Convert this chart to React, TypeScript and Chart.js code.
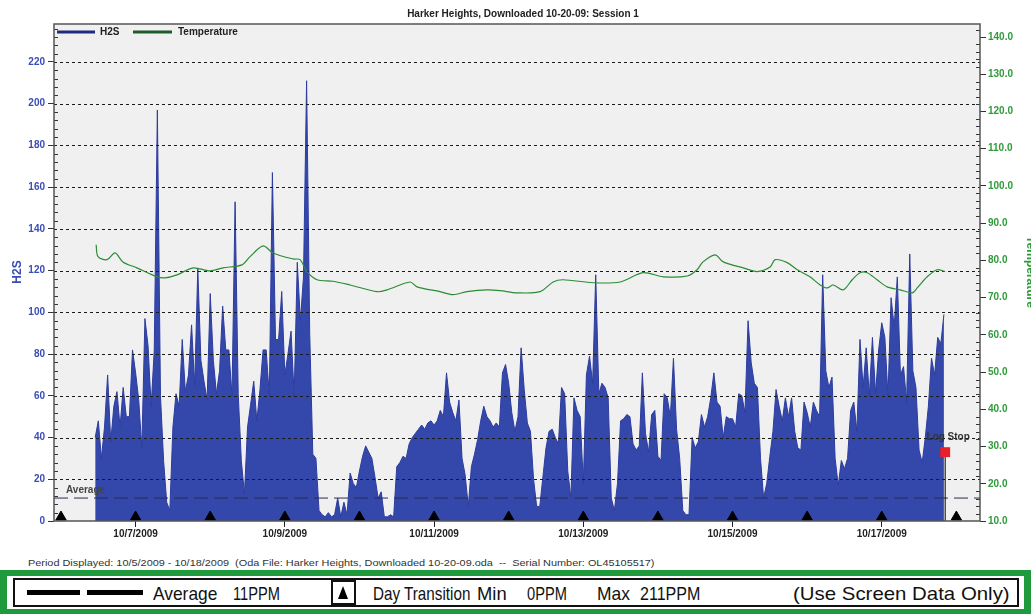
import React, { useEffect, useLayoutEffect, useRef } from 'react';
import { Chart, registerables } from 'chart.js';

Chart.register(...registerables);

// ---------------- data ----------------
const chartTitle = 'Harker Heights, Downloaded 10-20-09: Session 1';

// H2S readings (ppm), one per hour, starting 10/6/2009 11:00
const h2sStartHour = 11; // hours after 10/6/2009 00:00
const h2sPPM = [
  // 10/6 11:00-23:00
  40, 48, 30, 45, 70, 38, 55, 62, 45, 64, 50, 50, 82,
  // 10/7
  71, 58, 35, 97, 84, 55, 82, 197, 60, 29, 9, 5, 45, 61, 55, 87, 62, 70, 94, 65, 121, 77, 67, 58,
  // 10/8
  109, 77, 61, 72, 103, 82, 82, 60, 153, 61, 29, 13, 45, 56, 67, 48, 63, 82, 82, 60, 167, 87, 87, 110,
  // 10/9
  70, 80, 91, 60, 124, 96, 117, 211, 90, 32, 30, 5, 3, 2, 4, 2, 3, 11, 2, 9, 3, 23, 18, 16,
  // 10/10
  24, 31, 36, 33, 30, 21, 11, 14, 2, 2, 3, 2, 26, 28, 31, 30, 37, 40, 42, 44, 46, 44, 47, 48,
  // 10/11
  46, 48, 53, 50, 71, 57, 52, 48, 58, 30, 22, 7, 26, 32, 39, 48, 55, 50, 48, 45, 47, 45, 71, 75,
  // 10/12
  66, 52, 43, 50, 83, 63, 47, 43, 20, 7, 7, 21, 35, 43, 44, 40, 37, 64, 61, 24, 11, 59, 53, 50,
  // 10/13
  18, 70, 79, 66, 118, 61, 66, 64, 59, 11, 5, 18, 48, 49, 51, 50, 37, 34, 36, 71, 42, 33, 51, 53,
  // 10/14
  31, 29, 61, 59, 50, 78, 44, 30, 5, 3, 3, 40, 35, 38, 51, 45, 50, 59, 71, 57, 55, 40, 50, 49,
  // 10/15
  49, 45, 61, 60, 52, 96, 76, 66, 64, 30, 11, 18, 31, 43, 63, 55, 48, 59, 50, 59, 43, 35, 34, 57,
  // 10/16
  52, 45, 57, 53, 50, 118, 72, 64, 69, 30, 17, 29, 25, 30, 53, 57, 43, 87, 64, 83, 60, 88, 61, 82,
  // 10/17 00:00-20:00
  95, 88, 60, 107, 93, 117, 70, 74, 57, 128, 72, 64, 34, 28, 40, 55, 78, 70, 88, 85, 99,
];

// Temperature (right axis), hours after 10/6/2009 00:00
const tempHours = [
  11.3, 11.9, 14.8, 17.4, 19.9, 24.4, 30.9, 33.5, 37.3, 42.5, 47.9, 52.1, 58.2, 60.8, 65, 68.2,
  74.6, 76.9, 79.1, 82.4, 87.5, 93, 101.7, 104.9, 112.3, 114.5, 121.9, 126.1, 130.6, 137, 141.2,
  146.7, 154.1, 158.3, 161.5, 171.1, 179.8, 187.2, 193.7, 201.4, 204.6, 206.5, 210.4, 213, 219.4,
  223.9, 228.1, 229.7, 233.6, 236.8, 240.9, 244.2, 246.4, 248.4, 251.6, 254.5, 257, 259.3, 262.5,
  265.7, 269.9, 273.8, 275.4, 278.6, 281.8, 284.4,
];
const tempValues = [
  84.2, 81, 80.2, 82, 79.6, 78, 75.6, 75.3, 76.1, 78, 77.2, 78, 78.8, 81, 83.9, 82,
  80.4, 80.2, 77, 74.8, 74.4, 73.4, 71.6, 72.1, 74.2, 72.9, 71.6, 70.8, 71.6, 72.1, 71.9,
  71.3, 71.6, 74.2, 74.8, 74, 74.2, 76.7, 75.6, 75.8, 77.5, 79.6, 81.5, 79.6, 78,
  77, 78.2, 80.2, 79.4, 77.5, 75.6, 73.4, 72.6, 73.4, 72.1, 74.8, 76.7, 76.7, 74.8,
  72.9, 72.1, 71.3, 72.6, 75.6, 77.5, 77,
];

const dayTransitionHours = [0, 24, 48, 72, 96, 120, 144, 168, 192, 216, 240, 264, 288];
const dateTickHours = [24, 72, 120, 168, 216, 264];
const dateTickLabels = ['10/7/2009', '10/9/2009', '10/11/2009', '10/13/2009', '10/15/2009', '10/17/2009'];
const h2sTicks = [0, 20, 40, 60, 80, 100, 120, 140, 160, 180, 200, 220];
const tempTicks = [10, 20, 30, 40, 50, 60, 70, 80, 90, 100, 110, 120, 130, 140];
const averagePPM = 11;
const minPPM = 0;
const maxPPM = 211;
const logStopHour = 284.4;
const logStopPPM = 33;
const periodText =
  'Period Displayed: 10/5/2009 - 10/18/2009  (Oda File: Harker Heights, Downloaded 10-20-09.oda  --  Serial Number: OL45105517)';

// ---------------- layout / style ----------------
const W = 1031;
const CH = 548;
const X_MIN = -2.25;
const X_MAX = 295.6;
const Y_MAX = 238.2;
const Y1_MIN = 10;
const Y1_MAX = 143.5;
const TRIANGLE_Y = 1.9;
const BLUE_TXT = '#3a4db3';
const GREEN_TXT = '#2f9a3a';
const FONT = "'Liberation Sans', Arial, sans-serif";

Chart.defaults.font.family = FONT;

const decorPlugin = {
  id: 'decor',
  beforeDraw(chart: any) {
    const { ctx, chartArea: a } = chart;
    ctx.save();
    ctx.fillStyle = '#ffffff';
    ctx.fillRect(0, 0, chart.width, chart.height);
    ctx.fillStyle = '#f0f0f0';
    ctx.fillRect(a.left, a.top, a.right - a.left, a.bottom - a.top);
    ctx.restore();
  },
  afterDatasetDraw(chart: any, args: any) {
    if (args.index !== 0) return;
    const { ctx, chartArea: a, scales } = chart;
    ctx.save();
    ctx.strokeStyle = '#1a1a1a';
    ctx.lineWidth = 1;
    ctx.setLineDash([3, 3]);
    for (const v of h2sTicks) {
      if (v === 0) continue;
      const y = Math.round(scales.y.getPixelForValue(v)) + 0.5;
      ctx.beginPath();
      ctx.moveTo(a.left, y);
      ctx.lineTo(a.right, y);
      ctx.stroke();
    }
    ctx.restore();
  },
  afterDraw(chart: any) {
    const { ctx, chartArea: a, scales } = chart;
    ctx.save();
    // minor ticks
    ctx.strokeStyle = '#333';
    ctx.lineWidth = 1;
    for (let v = 4; v < Y_MAX; v += 4) {
      if (v % 20 === 0) continue;
      const y = Math.round(scales.y.getPixelForValue(v)) + 0.5;
      ctx.beginPath();
      ctx.moveTo(a.left, y);
      ctx.lineTo(a.left + 4, y);
      ctx.stroke();
    }
    for (let v = 12; v < Y1_MAX; v += 2) {
      if (v % 10 === 0) continue;
      const y = Math.round(scales.y1.getPixelForValue(v)) + 0.5;
      ctx.beginPath();
      ctx.moveTo(a.right - 4, y);
      ctx.lineTo(a.right, y);
      ctx.stroke();
    }
    // plot border
    ctx.strokeStyle = '#555';
    ctx.lineWidth = 1.5;
    ctx.strokeRect(a.left, a.top, a.right - a.left, a.bottom - a.top);

    // title
    ctx.fillStyle = '#222';
    ctx.font = `bold 10px ${FONT}`;
    ctx.textAlign = 'center';
    ctx.textBaseline = 'middle';
    ctx.fillText(chartTitle, 523, 14);

    // legend
    ctx.lineWidth = 3;
    ctx.strokeStyle = '#1f2b7d';
    ctx.beginPath();
    ctx.moveTo(57, 32);
    ctx.lineTo(95, 32);
    ctx.stroke();
    ctx.strokeStyle = '#1f5c2b';
    ctx.beginPath();
    ctx.moveTo(133, 32);
    ctx.lineTo(172, 32);
    ctx.stroke();
    ctx.fillStyle = '#222';
    ctx.textAlign = 'left';
    ctx.fillText('H2S', 100, 32);
    ctx.fillText('Temperature', 178, 32);

    // axis titles
    ctx.save();
    ctx.translate(18, 272);
    ctx.rotate(-Math.PI / 2);
    ctx.fillStyle = BLUE_TXT;
    ctx.font = `bold 12px ${FONT}`;
    ctx.textAlign = 'center';
    ctx.fillText('H2S', 0, 0);
    ctx.restore();
    ctx.save();
    ctx.translate(1030, 272);
    ctx.rotate(Math.PI / 2);
    ctx.fillStyle = GREEN_TXT;
    ctx.font = `bold 12px ${FONT}`;
    ctx.textAlign = 'center';
    ctx.fillText('Temperature', 0, 0);
    ctx.restore();

    // Average label
    ctx.fillStyle = '#444';
    ctx.font = `bold 10px ${FONT}`;
    ctx.textAlign = 'left';
    ctx.fillText('Average', 66, scales.y.getPixelForValue(averagePPM) - 8);

    // Log Stop label
    ctx.textAlign = 'center';
    ctx.fillStyle = '#333';
    ctx.fillText('Log Stop', scales.x.getPixelForValue(logStopHour) + 3, scales.y.getPixelForValue(40));
    ctx.restore();
  },
};

function FitText(props: { text: string; left: number; top: number; width: number; font: string; color?: string }) {
  const ref = useRef<HTMLSpanElement>(null);
  useLayoutEffect(() => {
    const el = ref.current;
    if (!el) return;
    el.style.transform = 'none';
    const w = el.offsetWidth;
    if (w > 0) el.style.transform = `scaleX(${props.width / w})`;
  }, [props.text, props.width]);
  return (
    <span
      ref={ref}
      style={{
        position: 'absolute',
        left: props.left,
        top: props.top,
        whiteSpace: 'pre',
        font: props.font,
        color: props.color || '#111',
        transformOrigin: '0 0',
        lineHeight: '1',
      }}
    >
      {props.text}
    </span>
  );
}

export default function App() {
  const canvasRef = useRef<HTMLCanvasElement>(null);

  useEffect(() => {
    const canvas = canvasRef.current;
    if (!canvas) return;
    const chart = new Chart(canvas, {
      type: 'line',
      data: {
        datasets: [
          {
            label: 'H2S',
            data: h2sPPM.map((v, i) => ({ x: h2sStartHour + i, y: v })),
            yAxisID: 'y',
            borderColor: '#2d3c9e',
            backgroundColor: '#3448ab',
            borderWidth: 1,
            fill: 'origin',
            pointRadius: 0,
            tension: 0,
            order: 10,
          },
          {
            label: 'Temperature',
            data: tempHours.map((h, i) => ({ x: h, y: tempValues[i] })),
            yAxisID: 'y1',
            borderColor: '#2b8c34',
            borderWidth: 1.2,
            fill: false,
            pointRadius: 0,
            tension: 0.3,
            order: 3,
          },
          {
            label: 'Average',
            data: [
              { x: X_MIN, y: averagePPM },
              { x: X_MAX, y: averagePPM },
            ],
            yAxisID: 'y',
            borderColor: '#2a2a55',
            borderWidth: 1,
            borderDash: [14, 6],
            fill: false,
            pointRadius: 0,
            order: 2,
          },
          {
            label: 'Log Stop',
            data: [
              { x: logStopHour, y: 0 },
              { x: logStopHour, y: logStopPPM },
            ],
            yAxisID: 'y',
            borderColor: '#000',
            borderWidth: 1,
            fill: false,
            pointRadius: [0, 7],
            pointStyle: 'rect',
            pointBackgroundColor: '#e8202a',
            pointBorderColor: '#e8202a',
            pointBorderWidth: 0,
            order: 1,
          },
          {
            label: 'Day Transition',
            data: dayTransitionHours.map((h) => ({ x: h, y: TRIANGLE_Y })),
            yAxisID: 'y',
            showLine: false,
            pointStyle: 'triangle',
            pointRadius: 6,
            pointBackgroundColor: '#000',
            pointBorderColor: '#000',
            pointBorderWidth: 1,
            clip: false,
            order: 0,
          },
        ],
      },
      options: {
        responsive: false,
        animation: false,
        layout: { padding: { top: 24, left: 0, right: 0, bottom: 0 } },
        plugins: {
          legend: { display: false },
          title: { display: false },
          tooltip: { enabled: false },
        },
        scales: {
          x: {
            type: 'linear',
            min: X_MIN,
            max: X_MAX,
            afterBuildTicks: (s: any) => {
              s.ticks = dateTickHours.map((v) => ({ value: v }));
            },
            afterFit: (s: any) => {
              s.height = CH - 521;
            },
            ticks: {
              autoSkip: false,
              maxRotation: 0,
              padding: 1,
              color: '#222',
              font: { weight: 'bold', size: 10 },
              callback: (v: any) => {
                const i = dateTickHours.indexOf(Number(v));
                return i >= 0 ? dateTickLabels[i] : '';
              },
            },
            grid: { drawOnChartArea: false, drawTicks: true, tickLength: 6, color: '#222' },
            border: { display: false },
          },
          y: {
            type: 'linear',
            position: 'left',
            min: 0,
            max: Y_MAX,
            afterBuildTicks: (s: any) => {
              s.ticks = h2sTicks.map((v) => ({ value: v }));
            },
            afterFit: (s: any) => {
              s.width = 54;
            },
            ticks: { color: BLUE_TXT, padding: 3, font: { weight: 'bold', size: 10 } },
            grid: { drawOnChartArea: false, drawTicks: true, tickLength: 6, color: '#333' },
            border: { display: false },
          },
          y1: {
            type: 'linear',
            position: 'right',
            min: Y1_MIN,
            max: Y1_MAX,
            afterBuildTicks: (s: any) => {
              s.ticks = tempTicks.map((v) => ({ value: v }));
            },
            afterFit: (s: any) => {
              s.width = W - 980;
            },
            ticks: {
              color: GREEN_TXT,
              padding: 2,
              font: { weight: 'bold', size: 10 },
              callback: (v: any) => Number(v).toFixed(1),
            },
            grid: { drawOnChartArea: false, drawTicks: true, tickLength: 6, color: '#333' },
            border: { display: false },
          },
        },
      },
      plugins: [decorPlugin],
    } as any);
    return () => chart.destroy();
  }, []);

  const footFont = `19px 'Liberation Sans Narrow', 'Arial Narrow', ${FONT}`;
  const footTop = 584;

  return (
    <div style={{ position: 'absolute', left: 0, top: 0, width: W, height: 614, background: '#fff', overflow: 'hidden' }}>
      <canvas ref={canvasRef} width={W} height={CH} style={{ position: 'absolute', left: 0, top: 0, width: W, height: CH }} />
      <FitText text={periodText} left={28} top={558} width={627} font={`9.5px ${FONT}`} color="#333" />
      {/* footer frame */}
      <div style={{ position: 'absolute', left: 0, top: 570, width: W, height: 44, background: '#1f9a3c' }} />
      <div style={{ position: 'absolute', left: 7, top: 576, width: 1017, height: 33, background: '#fff' }} />
      <div
        style={{
          position: 'absolute',
          left: 13,
          top: 578,
          width: 1002,
          height: 25,
          border: '2px solid #111',
          background: '#fff',
        }}
      />
      <div style={{ position: 'absolute', left: 27, top: 590, width: 53, height: 5, background: '#000' }} />
      <div style={{ position: 'absolute', left: 87, top: 590, width: 56, height: 5, background: '#000' }} />
      <FitText text="Average" left={153} top={footTop} width={64} font={footFont} />
      <FitText text={`${averagePPM}PPM`} left={233} top={footTop} width={47} font={footFont} />
      <div
        style={{
          position: 'absolute',
          left: 331,
          top: 580,
          width: 21,
          height: 21,
          border: '2px solid #111',
          background: '#fff',
        }}
      >
        <div
          style={{
            position: 'absolute',
            left: 5,
            top: 4,
            width: 0,
            height: 0,
            borderLeft: '5.5px solid transparent',
            borderRight: '5.5px solid transparent',
            borderBottom: '13px solid #000',
          }}
        />
      </div>
      <FitText text="Day Transition" left={373} top={footTop} width={97} font={footFont} />
      <FitText text="Min" left={477} top={footTop} width={30} font={footFont} />
      <FitText text={`${minPPM}PPM`} left={527} top={footTop} width={40} font={footFont} />
      <FitText text="Max" left={597} top={footTop} width={33} font={footFont} />
      <FitText text={`${maxPPM}PPM`} left={640} top={footTop} width={60} font={footFont} />
      <FitText text="(Use Screen Data Only)" left={793} top={footTop} width={217} font={footFont} />
    </div>
  );
}
